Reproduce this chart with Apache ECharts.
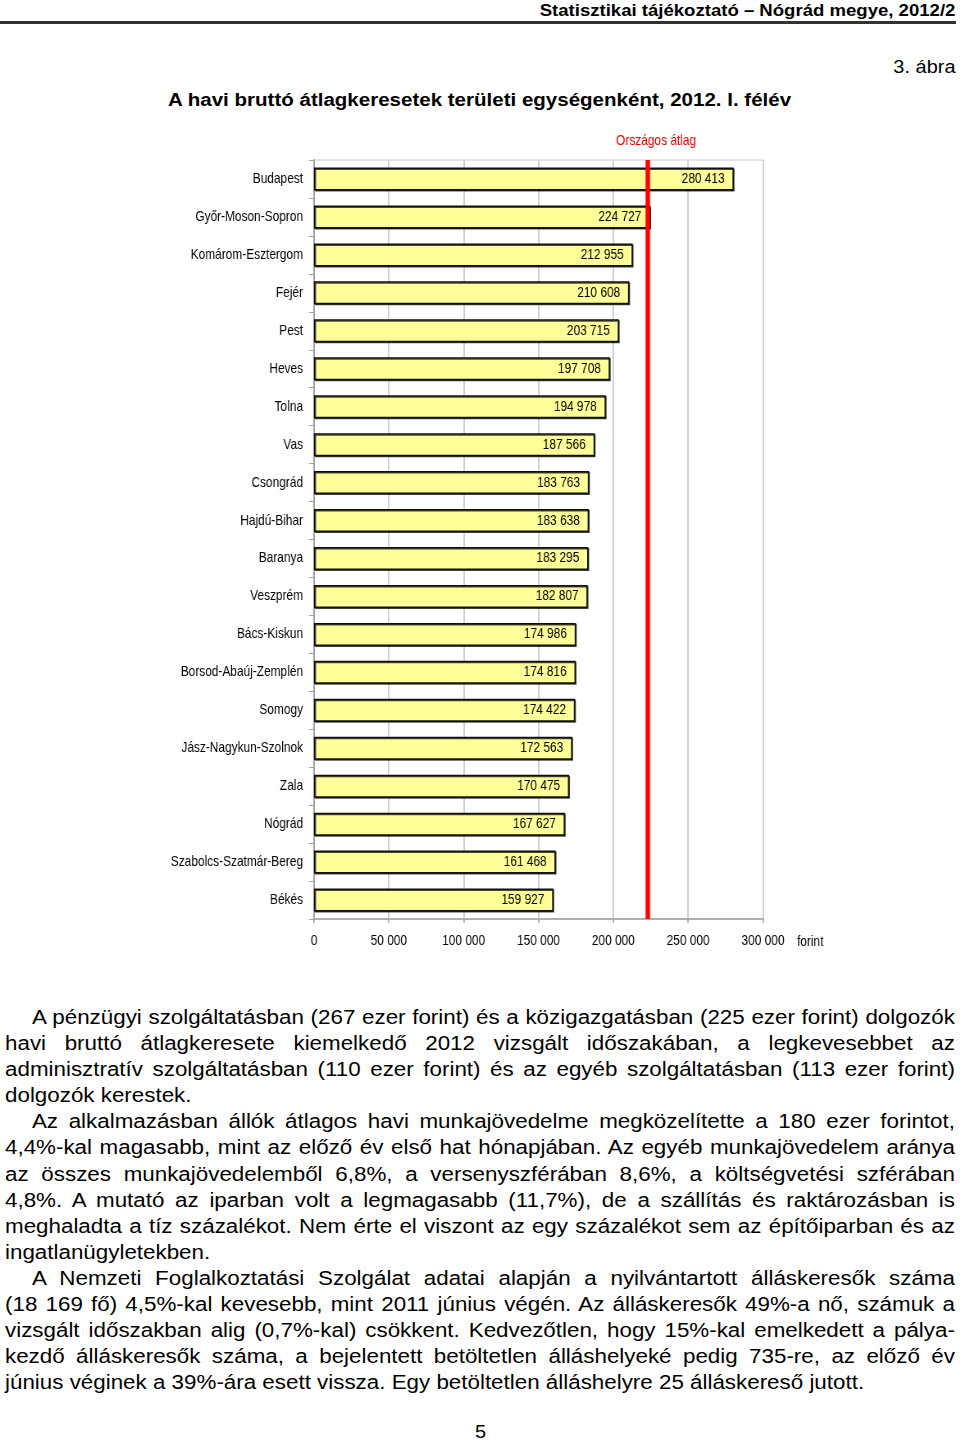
<!DOCTYPE html>
<html>
<head>
<meta charset="utf-8">
<script src="https://cdn.jsdelivr.net/npm/echarts@6/dist/echarts.min.js"></script>
<style>
  html, body { margin: 0; padding: 0; background: #fff; }
  body { width: 960px; height: 1440px; position: relative; overflow: hidden; font-family: "Liberation Sans", Arial, sans-serif; color: #000; }
  #chart { position: absolute; left: 0; top: 110px; width: 1170.7px; height: 860px; transform: scaleX(0.82); transform-origin: left top; }
  .abs { position: absolute; white-space: nowrap; }
  #header { right: 5px; top: 0px; font-weight: bold; font-size: 16px; line-height: 22px; transform: scaleX(1.16); transform-origin: right center; }
  #rule { position: absolute; left: 0; top: 21px; width: 956px; height: 3px; background: #333; }
  #fig { right: 5px; top: 55px; font-size: 17.5px; line-height: 24px; transform: scaleX(1.14); transform-origin: right center; }
  #title { left: 168px; top: 88px; font-weight: bold; font-size: 18px; line-height: 24px; transform: scaleX(1.14); transform-origin: left center; }
  #body { position: absolute; left: 5px; top: 1004px; width: 828.2px; font-size: 19.5px; line-height: 26.1px; transform: scaleX(1.147); transform-origin: left top; }
  .ln { white-space: nowrap; text-align: justify; text-align-last: justify; height: 26.1px; }
  .ln.last { text-align: left; text-align-last: left; }
  .ln.ind { padding-left: 23.5px; }
  #pnum { left: 475px; top: 1420px; font-size: 17.5px; line-height: 24px; transform: scaleX(1.14); transform-origin: left center; }
</style>
</head>
<body>
<div id="header" class="abs">Statisztikai tájékoztató – Nógrád megye, 2012/2</div>
<div id="rule"></div>
<div id="fig" class="abs">3. ábra</div>
<div id="title" class="abs">A havi bruttó átlagkeresetek területi egységenként, 2012. I. félév</div>
<div id="chart"></div>
<div id="body"></div>
<div id="pnum" class="abs">5</div>
<script>
// ---- Data ----
const regions = [
  "Budapest", "Győr-Moson-Sopron", "Komárom-Esztergom", "Fejér", "Pest",
  "Heves", "Tolna", "Vas", "Csongrád", "Hajdú-Bihar",
  "Baranya", "Veszprém", "Bács-Kiskun", "Borsod-Abaúj-Zemplén", "Somogy",
  "Jász-Nagykun-Szolnok", "Zala", "Nógrád", "Szabolcs-Szatmár-Bereg", "Békés"
];
const earnings = [
  280413, 224727, 212955, 210608, 203715,
  197708, 194978, 187566, 183763, 183638,
  183295, 182807, 174986, 174816, 174422,
  172563, 170475, 167627, 161468, 159927
];
const nationalAverage = 223100;
const nationalAverageLabel = "Országos átlag";
const xTicks = { min: 0, max: 300000, interval: 50000 };
const unitLabel = "forint";

const paragraphs = [
  [
    "A pénzügyi szolgáltatásban (267 ezer forint) és a közigazgatásban (225 ezer forint) dolgozók",
    "havi bruttó átlagkeresete kiemelkedő 2012 vizsgált időszakában, a legkevesebbet az",
    "adminisztratív szolgáltatásban (110 ezer forint) és az egyéb szolgáltatásban (113 ezer forint)",
    "dolgozók kerestek."
  ],
  [
    "Az alkalmazásban állók átlagos havi munkajövedelme megközelítette a 180 ezer forintot,",
    "4,4%-kal magasabb, mint az előző év első hat hónapjában. Az egyéb munkajövedelem aránya",
    "az összes munkajövedelemből 6,8%, a versenyszférában 8,6%, a költségvetési szférában",
    "4,8%. A mutató az iparban volt a legmagasabb (11,7%), de a szállítás és raktározásban is",
    "meghaladta a tíz százalékot. Nem érte el viszont az egy százalékot sem az építőiparban és az",
    "ingatlanügyletekben."
  ],
  [
    "A Nemzeti Foglalkoztatási Szolgálat adatai alapján a nyilvántartott álláskeresők száma",
    "(18 169 fő) 4,5%-kal kevesebb, mint 2011 június végén. Az álláskeresők 49%-a nő, számuk a",
    "vizsgált időszakban alig (0,7%-kal) csökkent. Kedvezőtlen, hogy 15%-kal emelkedett a pálya-",
    "kezdő álláskeresők száma, a bejelentett betöltetlen álláshelyeké pedig 735-re, az előző év",
    "június véginek a 39%-ára esett vissza. Egy betöltetlen álláshelyre 25 álláskereső jutott."
  ]
];

// ---- Body text ----
const bodyEl = document.getElementById("body");
paragraphs.forEach(lines => {
  lines.forEach((t, i) => {
    const d = document.createElement("div");
    d.className = "ln" + (i === 0 ? " ind" : "") + (i === lines.length - 1 ? " last" : "");
    d.textContent = t;
    bodyEl.appendChild(d);
  });
});

// ---- Chart (container is horizontally condensed by CSS, factor S) ----
const S = 0.82;
const fmt = v => String(v).replace(/\B(?=(\d{3})+(?!\d))/g, " ");
const font = "'Liberation Sans', Arial, sans-serif";

const chart = echarts.init(document.getElementById("chart"), null, { renderer: "canvas" });
chart.setOption({
  animation: false,
  textStyle: { fontFamily: font },
  grid: { left: 314 / S, width: 449 / S, top: 50, height: 759, show: true, borderColor: "#c8c8c8", borderWidth: 1, containLabel: false },
  xAxis: {
    type: "value",
    min: xTicks.min, max: xTicks.max, interval: xTicks.interval,
    axisLine: { show: true, lineStyle: { color: "#a0a0a0", width: 1.5 } },
    axisTick: { show: true, length: 4, lineStyle: { color: "#a0a0a0", width: 1.5 } },
    splitLine: { show: true, lineStyle: { color: "#d0d0d0", width: 2 } },
    axisLabel: { formatter: v => fmt(v), fontSize: 14.5, color: "#000", margin: 14, fontFamily: font },
    name: unitLabel, nameLocation: "end", nameGap: 34 / S,
    nameTextStyle: { fontSize: 14.5, color: "#000", fontFamily: font, verticalAlign: "top", padding: [15, 0, 0, 0] }
  },
  yAxis: {
    type: "category",
    data: regions,
    inverse: true,
    axisLine: { show: true, lineStyle: { color: "#a0a0a0", width: 1.8 } },
    axisTick: { show: true, length: 6, lineStyle: { color: "#a0a0a0" } },
    axisLabel: { fontSize: 14.5, color: "#000", margin: 11 / S, fontFamily: font }
  },
  series: [{
    type: "bar",
    data: earnings,
    barWidth: 23,
    itemStyle: { color: "#ffff99", borderColor: "#111", borderWidth: 1.5,
      shadowColor: "rgba(0,0,0,0.7)", shadowOffsetX: 1, shadowOffsetY: 1, shadowBlur: 0 },
    label: { show: true, position: "insideRight", distance: 11, formatter: p => fmt(p.value),
      fontSize: 14.5, color: "#000", fontFamily: font },
    markLine: {
      silent: true,
      symbol: "none",
      lineStyle: { color: "#ff0000", width: 5.5, type: "solid" },
      label: { show: true, position: "start", formatter: nationalAverageLabel, color: "#e00000",
        fontSize: 14.5, fontFamily: font, distance: 12, offset: [10, 0] },
      data: [{ xAxis: nationalAverage }]
    }
  }]
});
</script>
</body>
</html>
